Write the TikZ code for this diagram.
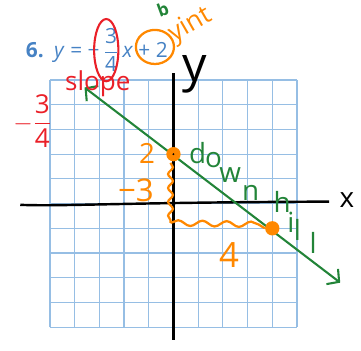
\documentclass[tikz,border=0pt]{standalone}
\usepackage{amsmath}
\usepackage{fontspec}
\setmainfont{Open Sans}
\usepackage{tikz}
\usetikzlibrary{arrows.meta, decorations.pathmorphing}
\usepackage{xcolor}
\definecolor{gridblue}{RGB}{150,190,228}
\definecolor{printblue}{RGB}{70,130,196}
\definecolor{inkgreen}{RGB}{34,132,56}
\definecolor{inkred}{RGB}{234,32,40}
\definecolor{inkorange}{RGB}{255,136,0}

\begin{document}
\begin{tikzpicture}[
    x=0.5cm,y=0.5cm,
    >=Stealth,
    gridline/.style={draw=gridblue,line width=0.7pt},
    axis/.style={draw=black,line width=1.4pt},
    graphline/.style={draw=inkgreen,line width=1.2pt,
        {Straight Barb[length=5pt,width=11pt]}-{Straight Barb[length=5pt,width=11pt]}},
    dot/.style={circle,fill=inkorange,minimum size=2.9mm,inner sep=0pt},
    brace/.style={draw=inkorange,line width=1.3pt,decorate,
        decoration={snake,amplitude=1.4pt,segment length=8pt}},
    redink/.style={text=inkred,inner sep=0pt},
    orangeink/.style={text=inkorange,inner sep=0pt},
    greenink/.style={text=inkgreen,inner sep=0pt}
]
\useasboundingbox (-7.02,-5.93) rectangle (7.59,8.24);

% Graph paper.
\draw[gridline,step=0.5cm] (-5,-5) grid (5,5);

% Hand-drawn axes.
\coordinate (xaxisL) at (-6.2,-0.05);
\coordinate (xaxisR) at (6.3,0.08);
\coordinate (yaxisT) at (0,5.28);
\coordinate (yaxisB) at (0,-5.53);
\draw[axis] (xaxisL) .. controls (-4.5,-0.12) and (-2,0.05) .. (xaxisR);
\draw[axis] (yaxisT) -- (yaxisB);
\node[inner sep=0pt,font=\fontsize{16}{16}\selectfont] (xlabel) at (7.02,0.14) {x};
\node[inner sep=0pt,font=\fontsize{28}{28}\selectfont] (ylabel) at (0.87,5.25) {y};

% The line y = -3/4 x + 2.
\coordinate (lineL) at (-3.6,4.7);
\coordinate (lineR) at (6.75,-3.2);
\draw[graphline] (lineL) -- (lineR);

% Intercept and second point, joined by rise and run.
\node[dot] (yint) at (0,2) {};
\node[dot] (run) at (4,-1) {};
\fill[black] (yint) circle (0.6pt);
\coordinate (riseTop) at (-0.12,1.65);
\coordinate (riseBot) at (-0.12,-0.78);
\coordinate (runEnd) at (3.6,-0.85);
\draw[brace] (riseTop) -- (riseBot);
\draw[brace,decoration={segment length=14pt,amplitude=1.6pt}] (riseBot) -- (runEnd) -- (run.west);
\node[orangeink,font=\fontsize{16}{16}\selectfont] (riselabel) at (-1.07,2.04) {2};
\node[orangeink,font=\fontsize{18}{18}\selectfont] (risevalue) at (-1.52,0.55) {−3};
\node[orangeink,font=\fontsize{20}{20}\selectfont] (runlabel) at (2.25,-2.08) {4};

% Printed exercise with the teacher's marks.
\node[text=printblue,inner sep=0pt,font=\fontsize{12}{14}\selectfont] (problem) at (-3.1,6.21)
    {\textbf{6.}\enspace\textit{y} = −\,$\dfrac{\text{3}}{\text{4}}$\,\textit{x} + 2};
\coordinate (slopering) at (-2.72,6.21);
\coordinate (interring) at (-0.75,6.34);
\draw[inkred,line width=1.2pt] (slopering) ellipse (0.49 and 1.26);
\draw[inkorange,line width=1.3pt] (interring) ellipse (0.77 and 0.69);
\node[orangeink,rotate=30,font=\fontsize{15}{15}\selectfont] (yintword) at (0.7,7.2) {yint};
\node[greenink,rotate=20,font=\bfseries\fontsize{10}{10}\selectfont] (bmark) at (-0.43,7.85) {b};
\node[redink,font=\fontsize{15}{15}\selectfont] (slopeword) at (-3.06,4.84) {slope};
\node[redink,font=\fontsize{15}{15}\selectfont] (slopevalue) at (-5.7,3.35) {$-\dfrac{\text{3}}{\text{4}}$};

% Written down the slope of the line.
\foreach \ch/\px/\py [count=\k] in {d/0.98/1.64,o/1.62/1.48,w/2.3/0.87,n/3.12/0.14,
        h/4.4/-0.38,i/4.75/-1.15,l/5.02/-1.48,l/5.65/-2.01}{
    \node[greenink,anchor=base,font=\fontsize{16}{16}\selectfont] (word\k) at (\px,\py) {\ch};
}
\end{tikzpicture}
\end{document}
